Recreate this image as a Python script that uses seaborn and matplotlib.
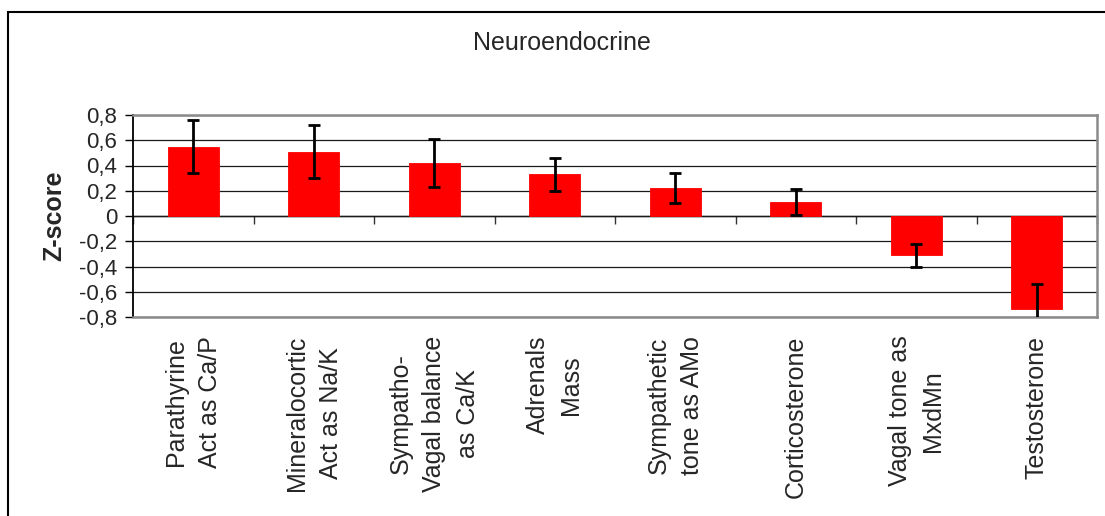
import matplotlib
matplotlib.use("Agg")
import matplotlib.pyplot as plt
import matplotlib.ticker as mticker
from matplotlib.patches import Rectangle
import numpy as np
import pandas as pd
import seaborn as sns

# Neuroendocrine markers: mean Z-scores with their error margins
categories = [
    "Parathyrine\nAct as Ca/P",
    "Mineralocortic\nAct as Na/K",
    "Sympatho-\nVagal balance\nas Ca/K",
    "Adrenals\nMass",
    "Sympathetic\ntone as AMo",
    "Corticosterone",
    "Vagal tone as\nMxdMn",
    "Testosterone",
]
z_scores = [0.55, 0.51, 0.42, 0.33, 0.22, 0.11, -0.31, -0.74]
z_errors = [0.21, 0.21, 0.19, 0.13, 0.12, 0.10, 0.09, 0.20]
y_ticks = [-0.8, -0.6, -0.4, -0.2, 0.0, 0.2, 0.4, 0.6, 0.8]

sns.set_style("white")
plt.rcParams["font.family"] = ["Liberation Sans", "DejaVu Sans"]

df = pd.DataFrame({"marker": categories, "z": z_scores, "err": z_errors})

fig = plt.figure(figsize=(11.05, 5.16), dpi=100)
ax = fig.add_axes([133 / 1105, 1 - 317 / 516, (1097 - 133) / 1105, (317 - 115) / 516])

sns.barplot(data=df, x="marker", y="z", color="#ff0000", saturation=1,
            width=0.42, errorbar=None, ax=ax, zorder=2,
            edgecolor="#ff0000", linewidth=0.6)
ax.errorbar(np.arange(len(df)), df["z"], yerr=df["err"], fmt="none",
            ecolor="black", elinewidth=2.0, capsize=4.6, capthick=2.0, zorder=3)

# y axis: comma decimal labels, horizontal grid
ax.set_ylim(-0.8, 0.8)
ax.set_yticks(y_ticks)
ax.yaxis.set_major_formatter(
    mticker.FuncFormatter(lambda v, _: "0" if abs(v) < 1e-9 else f"{v:.1f}".replace(".", ",")))
ax.tick_params(axis="y", direction="out", length=6, width=1, color="black",
               labelsize=16, pad=5.5, left=True)
ax.set_axisbelow(True)
ax.yaxis.grid(True, color="#1a1a1a", linewidth=0.9)
ax.xaxis.grid(False)
ax.set_ylabel("Z-score", fontsize=18, fontweight="bold", labelpad=9)

# category labels under the plot
ax.set_xlim(-0.5, len(df) - 0.5)
ax.set_xlabel("")
ax.tick_params(axis="x", length=0, pad=13.5)
for lab in ax.get_xticklabels():
    lab.set_rotation(90)
    lab.set_fontsize(18)
    lab.set_ha("center")
    lab.set_va("top")
    lab.set_multialignment("center")
    lab.set_linespacing(1.5)

# frame: black left edge, gray top/bottom/right
ax.spines["left"].set_color("black")
ax.spines["left"].set_linewidth(1.3)
for side in ("top", "bottom", "right"):
    ax.spines[side].set_color("#8a8a8a")
    ax.spines[side].set_linewidth(1.8)
    ax.spines[side].set_visible(True)

# zero line with category-boundary tick marks
zero_axis = ax.secondary_xaxis(0.5)
zero_axis.set_alignment("bottom")
zero_axis.set_xticks(np.arange(-0.5, len(df), 1.0))
zero_axis.tick_params(axis="x", direction="out", length=6, width=1,
                      color="#333333", labelbottom=False, labeltop=False)
zero_axis.spines["bottom"].set_color("black")
zero_axis.spines["bottom"].set_linewidth(1.0)

fig.text(562 / 1105, 1 - 43 / 516, "Neuroendocrine", fontsize=18,
         ha="center", va="center")

# outer chart border
fig.patches.append(Rectangle((8 / 1105, -0.1), 1.2, 1.1 - 12 / 516,
                             transform=fig.transFigure, fill=False,
                             edgecolor="black", linewidth=1.5))

fig.savefig("out.png", dpi=100)
